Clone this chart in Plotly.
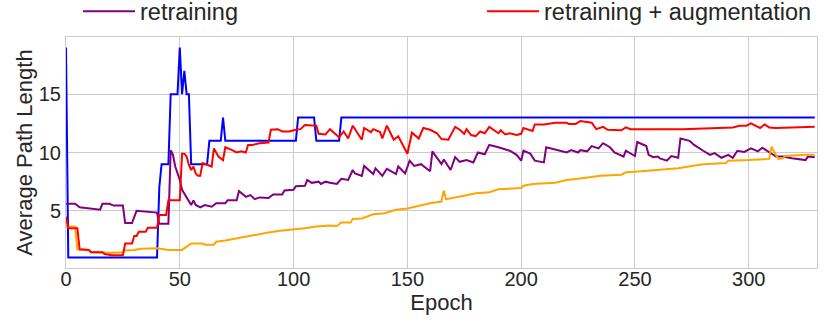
import plotly.graph_objects as go

# (epoch, average path length)
blue_epoch = [0, 1, 40, 41, 42, 45, 46, 49, 50, 51, 52, 53, 54, 55, 62, 63, 68, 69, 70,
              101, 102, 109, 110, 120, 121, 329]
blue_val = [19, 1, 1, 7, 9, 9, 15, 15, 19, 15, 17, 15, 15, 9, 9, 11, 11, 13, 11,
            11, 13, 13, 11, 11, 13, 13]

purple_epoch = [0, 4, 6, 10, 15, 16, 19, 21, 25, 26, 29, 31, 35, 40, 41, 45, 46, 47, 48, 50,
                51, 53, 54, 55, 56, 57, 59, 61, 64, 66, 70, 71, 75, 76, 79, 81, 83, 85, 89, 91,
                95, 96, 100, 101, 105, 106, 108, 111, 112, 114, 116, 119, 121, 124, 126, 127, 130, 131, 135, 136,
                139, 141, 145, 146, 149, 151, 153, 156, 160, 161, 165, 166, 169, 171, 173, 176, 179, 181, 184, 186,
                190, 195, 198, 200, 201, 204, 206, 210, 211, 214, 216, 220, 222, 225, 226, 229, 231, 234, 236, 239,
                241, 243, 245, 246, 250, 251, 255, 256, 258, 260, 261, 264, 266, 269, 270, 274, 276, 280, 283, 285,
                288, 291, 293, 295, 298, 301, 304, 306, 309, 312, 315, 319, 325, 326, 329]
purple_val = [5.6, 5.6, 5.3, 5.2, 5.1, 5.6, 5.6, 5.45, 5.45, 3.95, 3.95, 5.0, 4.95, 4.85, 3.9, 3.9, 10.2, 9.8, 8.8, 7.65,
              6.8, 6.2, 5.8, 5.5, 5.9, 5.5, 5.3, 5.5, 5.35, 5.65, 5.65, 5.9, 5.9, 6.7, 6.2, 6.35, 6.0, 6.15, 6.1, 6.4,
              6.4, 6.75, 6.8, 7.1, 7.15, 7.65, 7.4, 7.5, 7.3, 7.5, 7.4, 7.3, 7.75, 7.65, 8.5, 8.2, 8.0, 8.85, 8.15, 8.65,
              8.0, 8.6, 8.15, 8.8, 8.2, 9.3, 8.85, 9.0, 8.4, 10.1, 9.0, 9.4, 8.5, 9.6, 9.2, 9.35, 9.15, 10.0, 9.85, 10.65,
              10.45, 10.15, 9.8, 9.3, 10.15, 9.9, 9.3, 9.15, 10.45, 10.3, 10.15, 10.0, 10.2, 10.0, 10.2, 10.1, 10.55, 10.35, 10.8, 10.45,
              10.0, 9.85, 9.65, 10.15, 9.7, 10.9, 10.55, 9.8, 9.6, 9.65, 9.5, 9.3, 9.7, 9.55, 11.2, 11.0, 10.65, 10.15, 9.8, 9.95,
              9.55, 9.8, 9.55, 10.15, 10.05, 10.35, 10.1, 10.4, 10.0, 9.65, 9.65, 9.5, 9.35, 9.65, 9.6]

orange_epoch = [0, 4, 5, 10, 11, 20, 25, 26, 30, 33, 40, 45, 51, 52, 55, 60, 61, 65, 66, 70,
                75, 80, 84, 89, 94, 100, 105, 110, 116, 119, 121, 125, 126, 130, 135, 140, 145, 150, 155, 160,
                165, 166, 167, 170, 175, 180, 186, 190, 200, 201, 205, 215, 220, 225, 235, 244, 246, 250, 260, 269,
                275, 280, 290, 291, 300, 306, 309, 310, 312, 313, 315, 316, 325, 329]
orange_val = [3.65, 3.65, 1.7, 1.65, 1.45, 1.4, 1.45, 1.6, 1.65, 1.75, 1.8, 1.65, 1.65, 1.8, 2.2, 2.2, 2.1, 2.1, 2.35, 2.45,
              2.65, 2.8, 3.0, 3.15, 3.3, 3.4, 3.5, 3.65, 3.75, 3.7, 4.0, 4.0, 4.3, 4.35, 4.7, 4.8, 5.1, 5.2, 5.45, 5.65,
              5.8, 6.75, 6.0, 6.1, 6.3, 6.5, 6.6, 6.85, 6.95, 7.15, 7.3, 7.4, 7.65, 7.75, 8.0, 8.1, 8.3, 8.35, 8.5, 8.65,
              8.85, 9.0, 9.1, 9.3, 9.35, 9.45, 9.45, 10.5, 9.8, 9.45, 9.5, 9.7, 9.8, 9.8]

red_epoch = [0, 1, 5, 6, 10, 11, 16, 17, 20, 25, 26, 29, 30, 31, 32, 35, 36, 40, 41, 44,
             45, 50, 51, 52, 53, 54, 55, 56, 57, 58, 59, 60, 62, 64, 65, 67, 69, 70, 73, 75,
             77, 79, 80, 82, 85, 89, 90, 93, 95, 98, 101, 103, 105, 107, 110, 111, 114, 116, 119, 120,
             122, 124, 126, 128, 130, 131, 134, 135, 138, 139, 141, 143, 144, 146, 148, 150, 152, 155, 157, 160,
             163, 165, 168, 171, 173, 175, 176, 178, 180, 182, 184, 186, 190, 191, 193, 195, 198, 200, 201, 205,
             206, 210, 215, 220, 221, 224, 226, 231, 233, 236, 238, 244, 246, 248, 260, 271, 293, 296, 299, 301,
             304, 305, 307, 309, 312, 329]
red_val = [4.5, 3.5, 3.5, 1.7, 1.65, 1.45, 1.45, 1.3, 1.2, 1.2, 2.2, 2.2, 2.85, 2.85, 3.2, 3.2, 3.55, 3.55, 4.65, 4.65,
           5.9, 5.9, 9.9, 9.9, 9.65, 8.95, 8.5, 8.8, 8.2, 8.0, 8.0, 9.1, 8.95, 8.8, 10.35, 9.65, 9.35, 10.45, 10.2, 10.0,
           10.1, 10.0, 10.65, 10.65, 10.8, 10.85, 11.95, 12.0, 11.8, 11.8, 11.95, 12.0, 12.35, 12.35, 12.3, 11.6, 11.55, 12.0, 11.45, 11.3,
           11.8, 11.2, 12.3, 11.75, 11.1, 12.1, 11.75, 12.0, 11.75, 11.2, 12.3, 11.5, 11.1, 11.4, 10.65, 9.9, 11.7, 11.2, 12.1, 11.95,
           11.65, 11.15, 11.1, 12.2, 11.95, 11.6, 12.0, 11.5, 11.4, 11.8, 11.65, 12.2, 11.65, 11.9, 11.55, 11.65, 11.5, 11.6, 12.1, 11.85,
           12.4, 12.4, 12.55, 12.55, 12.45, 12.45, 12.7, 12.55, 12.0, 12.2, 11.95, 11.9, 12.15, 12.0, 12.0, 12.0, 12.15, 12.3, 12.3, 12.5,
           12.2, 12.1, 12.4, 12.15, 12.1, 12.2]

text_col = '#262626'
grid_col = '#cccccc'
font_family = 'Arial, Liberation Sans, sans-serif'
W, H = 830, 332

fig = go.Figure()

# draw order matches the reference: blue, purple, orange, red
fig.add_trace(go.Scatter(x=blue_epoch, y=blue_val, mode='lines', name='baseline',
                         line=dict(color='blue', width=2), showlegend=False))
fig.add_trace(go.Scatter(x=purple_epoch, y=purple_val, mode='lines', name='retraining',
                         line=dict(color='purple', width=2), legend='legend'))
fig.add_trace(go.Scatter(x=orange_epoch, y=orange_val, mode='lines', name='augmentation',
                         line=dict(color='orange', width=2), showlegend=False))
fig.add_trace(go.Scatter(x=red_epoch, y=red_val, mode='lines', name='retraining + augmentation',
                         line=dict(color='red', width=2), legend='legend2'))

# one legend per visible entry so each can sit where the reference has it
legend_common = dict(orientation='h', xref='container', yref='container',
                     xanchor='left', yanchor='middle', y=1 - 11.5 / H,
                     itemwidth=52, font=dict(size=23.5, color=text_col),
                     bgcolor='rgba(0,0,0,0)', borderwidth=0)

fig.update_layout(
    width=W, height=H,
    margin=dict(l=66, r=13, t=37, b=64, autoexpand=False),
    paper_bgcolor='white', plot_bgcolor='white',
    font=dict(family=font_family, size=20, color=text_col),
    legend=dict(legend_common, x=78 / W),
    legend2=dict(legend_common, x=482 / W),
)

fig.update_xaxes(range=[0, 330], tickvals=[0, 50, 100, 150, 200, 250, 300],
                 showgrid=True, gridcolor=grid_col, gridwidth=1, zeroline=False,
                 showline=True, linecolor=grid_col, linewidth=1, mirror=True,
                 ticks='', ticklabelstandoff=-7,
                 title=dict(text='Epoch', standoff=3, font=dict(size=22)))
fig.update_yaxes(range=[0.1, 19.9], tickvals=[5, 10, 15],
                 showgrid=True, gridcolor=grid_col, gridwidth=1, zeroline=False,
                 showline=True, linecolor=grid_col, linewidth=1, mirror=True,
                 ticks='', ticklabelstandoff=0,
                 title=dict(text='Average Path Length', standoff=0, font=dict(size=22)))

# the page body has an 8px default margin; drop it so the figure fills the window
fig.write_html("out.html", config={'displayModeBar': False},
               post_script="document.body.style.margin='0';")
